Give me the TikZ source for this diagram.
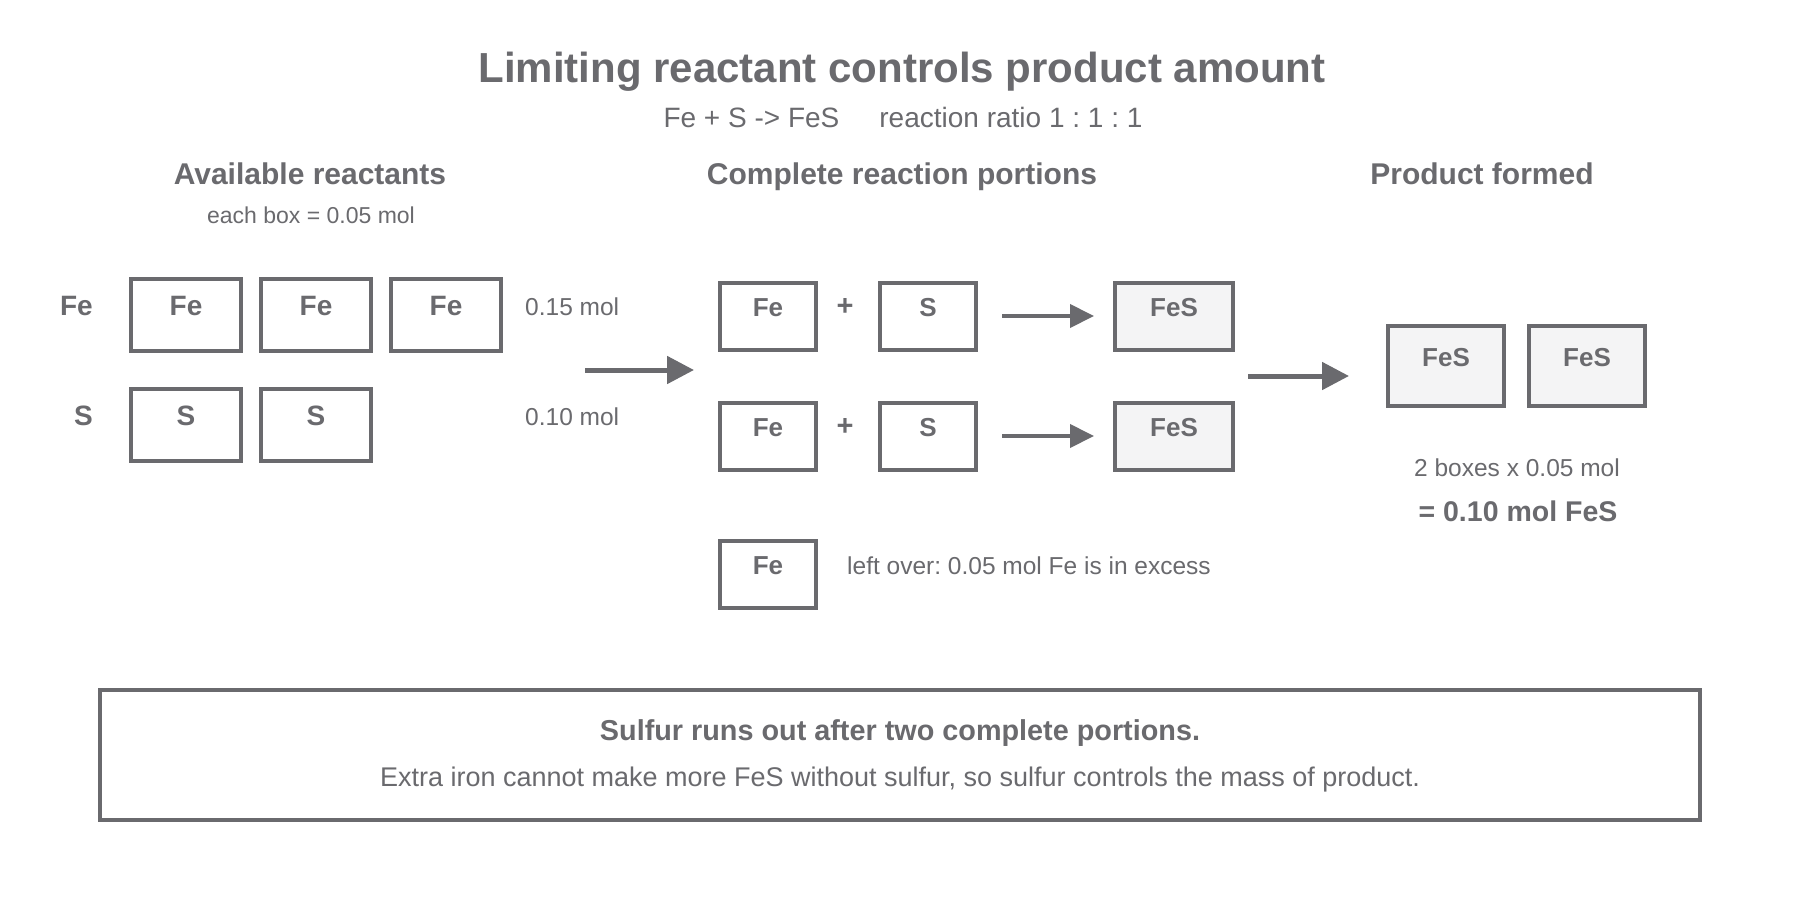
\documentclass[tikz,border=0pt]{standalone}
\usepackage{fontspec}
\setmainfont{Liberation Sans}
\usepackage{xcolor}
\usepackage{tikz}
\usetikzlibrary{arrows.meta,positioning}
\definecolor{ink}{RGB}{106,106,110}
\definecolor{paper}{RGB}{244,244,245}
\newcommand{\fsz}[1]{\fontsize{#1}{#1}\selectfont}
\frenchspacing
\tikzset{
	reactbox/.style={draw=ink,line width=4pt,inner sep=0pt,minimum width=110pt,minimum height=72pt,text height=36pt,text depth=36pt,text=ink,font=\bfseries\fsz{28}},
	portionbox/.style={draw=ink,line width=4pt,inner sep=0pt,minimum width=96pt,minimum height=67pt,text height=33.5pt,text depth=33.5pt,text=ink,font=\bfseries\fsz{26}},
	fesbox/.style={portionbox,fill=paper,minimum width=118pt},
	prodbox/.style={draw=ink,line width=4pt,fill=paper,inner sep=0pt,minimum width=116pt,minimum height=80pt,text height=40pt,text depth=40pt,text=ink,font=\bfseries\fsz{26}},
	flow/.style={draw=ink,line width=4pt,-{Triangle[length=24pt,width=23pt]}},
	bigflow/.style={draw=ink,line width=5pt,-{Triangle[length=27pt,width=27pt]}},
	txt/.style={text=ink,inner sep=0pt,anchor=base}
}
\begin{document}
\begin{tikzpicture}[x=1pt,y=-1pt]
	\fill[white] (0,0) rectangle (1800,900);
	\useasboundingbox (0,0) rectangle (1800,900);
	% titles
	\node[txt,font=\bfseries\fsz{42}] (title) at (902,82) {Limiting reactant controls product amount};
	\node[txt,font=\fsz{28}] (subtitle) at (903,127) {Fe + S -> FeS\hspace{40pt}reaction ratio 1 : 1 : 1};
	\node[txt,font=\bfseries\fsz{30}] (availhead) at (310,184) {Available reactants};
	\node[txt,font=\fsz{23}] (boxnote) at (311,223) {each box = 0.05 mol};
	\node[txt,font=\bfseries\fsz{30}] (portionhead) at (902,184) {Complete reaction portions};
	\node[txt,font=\bfseries\fsz{30}] (prodhead) at (1482,184) {Product formed};
	% available reactants
	\node[txt,font=\bfseries\fsz{28},anchor=base east] (felabel) at (93,315) {Fe};
	\node[txt,font=\bfseries\fsz{28},anchor=base east] (slabel) at (93,425) {S};
	\node[reactbox] (fe1) at (186,315) {Fe};
	\node[reactbox] (fe2) at (316,315) {Fe};
	\node[reactbox] (fe3) at (446,315) {Fe};
	\node[reactbox] (s1) at (186,425) {S};
	\node[reactbox] (s2) at (316,425) {S};
	\node[txt,font=\fsz{24.5},anchor=base west] (femol) at (525,315) {0.15 mol};
	\node[txt,font=\fsz{24.5},anchor=base west] (smol) at (525,425) {0.10 mol};
	\coordinate (gap1) at (585,370);
	\coordinate (gap2) at (694,370);
	\draw[bigflow] (gap1) -- (gap2);
	% complete portions
	\node[portionbox] (pfe1) at (768,316) {Fe};
	\node[txt,font=\bfseries\fsz{29}] (plus1) at (845,315) {+};
	\node[portionbox] (ps1) at (928,316) {S};
	\node[fesbox] (pfes1) at (1174,316) {FeS};
	\node[portionbox] (pfe2) at (768,436) {Fe};
	\node[txt,font=\bfseries\fsz{29}] (plus2) at (845,435) {+};
	\node[portionbox] (ps2) at (928,436) {S};
	\node[fesbox] (pfes2) at (1174,436) {FeS};
	\draw[flow,shorten <=24pt,shorten >=19pt] (ps1) -- (pfes1);
	\draw[flow,shorten <=24pt,shorten >=19pt] (ps2) -- (pfes2);
	\node[portionbox] (spare) at (768,574) {Fe};
	\node[txt,font=\fsz{24.5},anchor=base west] (sparenote) at (847,574) {left over: 0.05 mol Fe is in excess};
	% product
	\coordinate (gap3) at (1248,376);
	\coordinate (gap4) at (1349,376);
	\draw[bigflow] (gap3) -- (gap4);
	\node[prodbox] (prod1) at (1446,366) {FeS};
	\node[prodbox] (prod2) at (1587,366) {FeS};
	\node[txt,font=\fsz{24.5}] (prodcalc) at (1517,476) {2 boxes x 0.05 mol};
	\node[txt,font=\bfseries\fsz{28.5}] (prodtotal) at (1518,521) {= 0.10 mol FeS};
	% summary
	\node[draw=ink,line width=4pt,minimum width=1600pt,minimum height=130pt] (summary) at (900,755) {};
	\node[txt,font=\bfseries\fsz{28.8}] (sumhead) at (900,740) {Sulfur runs out after two complete portions.};
	\node[txt,font=\fsz{27}] (sumtext) at (900,786) {Extra iron cannot make more FeS without sulfur, so sulfur controls the mass of product.};
\end{tikzpicture}
\end{document}
